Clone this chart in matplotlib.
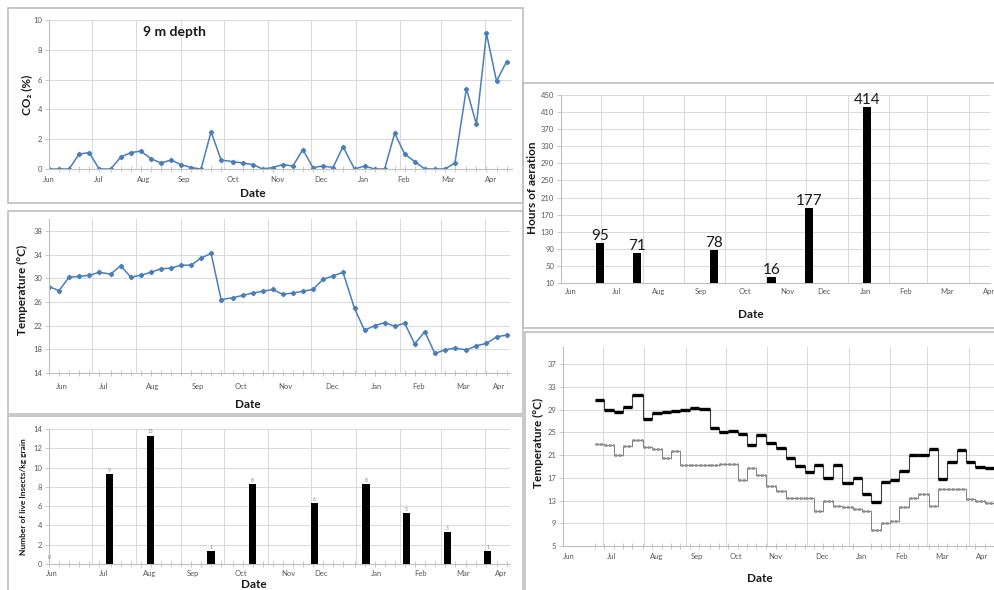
import matplotlib
matplotlib.use('Agg')
import matplotlib.pyplot as plt
from matplotlib.patches import Rectangle

plt.rcParams['font.family'] = ['Lato', 'DejaVu Sans']

W, H = 994, 590

# ---------------- data ----------------
months = ['Jun', 'Jul', 'Aug', 'Sep', 'Oct', 'Nov', 'Dec', 'Jan', 'Feb', 'Mar', 'Apr']
month_starts = [0, 30, 61, 92, 122, 153, 183, 214, 245, 273, 304]   # days since 1 Jun

sample_days = [0, 7, 14, 21, 28, 35, 43, 50, 57, 64, 71, 78, 85, 92, 99, 106, 113, 120,
               128, 135, 142, 149, 156, 163, 170, 177, 184, 191, 198, 205, 213, 220, 227,
               234, 241, 248, 255, 262, 269, 276, 283, 291, 298, 305, 312, 319]
co2 = [0, 0, 0, 1.0, 1.1, 0, 0, 0.8, 1.1, 1.2, 0.7, 0.4, 0.6, 0.3, 0.1, 0, 2.5, 0.6,
       0.5, 0.4, 0.3, 0, 0.1, 0.3, 0.2, 1.3, 0.1, 0.2, 0.1, 1.5, 0, 0.2, 0, 0, 2.4, 1.0,
       0.5, 0, 0, 0, 0.4, 5.4, 3.0, 9.1, 5.9, 7.2]
grain_temp = [28.6, 27.9, 30.2, 30.3, 30.5, 31.0, 30.7, 32.1, 30.2, 30.5, 31.0, 31.6,
              31.7, 32.2, 32.2, 33.4, 34.2, 26.4, 26.7, 27.1, 27.5, 27.8, 28.1, 27.3,
              27.5, 27.8, 28.1, 29.8, 30.4, 31.0, 24.9, 21.2, 22.0, 22.5, 21.9, 22.4,
              18.9, 21.0, 17.3, 17.9, 18.2, 17.9, 18.6, 19.0, 20.1, 20.4]

insect_days = [0, 42, 71, 113, 142, 185, 221, 249, 278, 306]
insect_counts = [0, 9.3, 13.3, 1.3, 8.3, 6.3, 8.3, 5.3, 3.3, 1.3]
insect_labels = ['0', '9', '13', '1', '8', '6', '8', '5', '3', '1']

aeration_days = [29, 57, 114, 157, 185, 228]
aeration_hours = [95, 71, 78, 16, 177, 414]

step_edges = [24, 31, 38, 45, 52, 60, 67, 74, 81, 88, 95, 102, 110, 117, 124, 131, 138,
              145, 152, 160, 167, 174, 181, 188, 195, 202, 209, 217, 224, 231, 238, 245,
              252, 259, 266, 274, 281, 288, 295, 302, 309, 316, 323]
temp_upper = [30.6, 29.0, 28.5, 29.4, 31.6, 27.3, 28.4, 28.5, 28.8, 29.0, 29.2, 29.1,
              25.8, 25.0, 25.3, 24.7, 22.8, 24.6, 23.1, 22.3, 20.4, 19.0, 18.0, 19.2,
              17.0, 19.2, 16.0, 16.9, 14.1, 12.8, 16.2, 16.6, 18.2, 21.0, 21.0, 22.1,
              16.7, 19.8, 21.8, 19.8, 18.9, 18.7]
temp_lower = [23.0, 22.8, 21.0, 22.6, 23.7, 22.5, 22.1, 20.5, 21.7, 19.2, 19.2, 19.2,
              19.3, 19.5, 19.4, 16.6, 18.8, 17.4, 15.6, 14.7, 13.5, 13.5, 13.5, 11.1,
              12.9, 12.0, 11.8, 11.5, 11.1, 7.9, 9.1, 9.4, 11.9, 13.4, 14.1, 12.1,
              15.0, 15.0, 15.0, 13.2, 12.9, 12.6]

# ---------------- layout helpers ----------------
GRID = '#D9D9D9'
AXC = '#BFBFBF'
TXT = '#595959'
LINE = '#4A7EBB'

fig = plt.figure(figsize=(W / 100, H / 100), dpi=100)


def frame(x1, y1, x2, y2):
    fig.add_artist(Rectangle((x1 / W, 1 - y2 / H), (x2 - x1) / W, (y2 - y1) / H,
                             transform=fig.transFigure, fill=False, ec=AXC, lw=1.2,
                             zorder=-1))


def axes_px(l, r, t, b):
    return fig.add_axes([l / W, 1 - b / H, (r - l) / W, (b - t) / H])


def style(ax, xlim, ylim, yticks, label_pos, pad, minor=None):
    ax.set_xlim(*xlim)
    ax.set_ylim(*ylim)
    ax.set_yticks(yticks)
    ax.set_xticks(label_pos, months)
    if minor is not None:
        ax.set_xticks(minor, minor=True)
    ax.tick_params(axis='x', which='major', length=0, pad=pad, labelsize=5.5,
                   labelcolor=TXT)
    ax.tick_params(axis='x', which='minor', length=4, direction='inout', color=AXC,
                   width=0.6)
    ax.tick_params(axis='y', length=3, color=AXC, width=0.6, labelsize=5.5,
                   labelcolor=TXT, pad=2)
    ax.grid(axis='y', color=GRID, lw=0.7)
    for m in month_starts[1:]:
        ax.axvline(m, color=GRID, lw=0.7, zorder=0)
    for s in ('top', 'right'):
        ax.spines[s].set_visible(False)
    for s in ('left', 'bottom'):
        ax.spines[s].set_color(AXC)
        ax.spines[s].set_linewidth(0.8)
    ax.set_axisbelow(True)


def ftext(x, y, s, size, rot=0, **kw):
    fig.text(x / W, 1 - y / H, s, rotation=rot, ha='center', va='center',
             fontsize=size, fontweight='bold', color='#1a1a1a', **kw)


# frames
frame(8, 8, 523, 203)
frame(8, 211, 523, 414)
frame(8, 416, 523, 600)
frame(523, 83, 1000, 328)
frame(525, 332, 1000, 600)

# ---------------- Panel A: CO2 ----------------
axA = axes_px(49, 512, 20, 169)
style(axA, (0, 322.8), (0, 10), range(0, 11, 2),
      [0, 34.5, 66, 94, 128, 159, 189.5, 219, 247.5, 278, 308], 5, sample_days)
axA.plot(sample_days, co2, color=LINE, lw=1.1, marker='D', ms=2.2, mfc=LINE, mec=LINE)
ftext(27, 95, 'CO₂ (%)', 8.5, rot=90)
ftext(253, 194, 'Date', 8.5)
ftext(174, 32, '9 m depth', 10)

# ---------------- Panel B: Temperature ----------------
axB = axes_px(49, 510, 219, 373)
style(axB, (0, 321.4), (14, 40), range(14, 39, 4),
      [8.7, 38, 72, 104, 134, 165, 197, 228, 258, 289, 314], 7, sample_days)
axB.plot(sample_days, grain_temp, color=LINE, lw=1.1, marker='D', ms=2.2, mfc=LINE,
         mec=LINE)
ftext(22, 290, 'Temperature (°C)', 8.5, rot=90)
ftext(248, 404, 'Date', 8.5)

# ---------------- Panel C: Insects ----------------
axC = axes_px(49, 510, 429, 564)
style(axC, (0, 321.4), (0, 14), range(0, 15, 2),
      [2, 38, 70, 100, 134, 167, 190, 228, 259, 289, 315], 4.3, sample_days)
axC.bar(insect_days, insect_counts, width=5, color='black', zorder=3)
for d, v, lab in zip(insect_days, insect_counts, insect_labels):
    axC.annotate(lab, (d, v), xytext=(0, 1 if v > 0 else 3), textcoords='offset points',
                 ha='center', va='bottom', fontsize=3.5, color='#7f7f7f')
ftext(24, 497, 'Number of live Insects/kg grain', 6, rot=90)
ftext(254, 584.5, 'Date', 8.5)

# ---------------- Panel D: Aeration hours ----------------
axD = axes_px(561, 990, 95, 283)
style(axD, (0, 320), (10, 450), range(10, 451, 40),
      [7.5, 41.6, 73, 104.5, 137, 169, 196, 227, 257, 288, 319.4], 3.6)
axD.bar(aeration_days, aeration_hours, width=6, bottom=9, color='black', zorder=3)
for d, h in zip(aeration_days, aeration_hours):
    axD.annotate(str(h), (d, h + 9), xytext=(0, 0), textcoords='offset points',
                 ha='center', va='bottom', fontsize=11, color='#1a1a1a',
                 annotation_clip=False)
ftext(533, 188, 'Hours of aeration', 8.5, rot=90)
ftext(751, 314, 'Date', 8.5)

# ---------------- Panel E: step temperatures ----------------
axE = axes_px(563, 994, 347, 546)
style(axE, (0, 321.9), (5, 40), range(5, 38, 4),
      [4, 36.6, 70, 100, 129.6, 159, 194, 224, 254, 284, 314], 4.8, step_edges)
axE.stairs(temp_lower, step_edges, baseline=None, color='#7f7f7f', lw=0.7, zorder=2)
axE.hlines(temp_lower, step_edges[:-1], step_edges[1:], color='#8c8c8c', lw=1.8,
           linestyles=(0, (1.2, 0.5)), zorder=2)
axE.stairs(temp_upper, step_edges, baseline=None, color='#404040', lw=0.8, zorder=3)
axE.hlines(temp_upper, step_edges[:-1], step_edges[1:], color='black', lw=2.4, zorder=3)
ftext(538, 443, 'Temperature (°C)', 8.5, rot=90)
ftext(760, 578, 'Date', 8.5)

fig.savefig('out.png', dpi=100, facecolor='white')
